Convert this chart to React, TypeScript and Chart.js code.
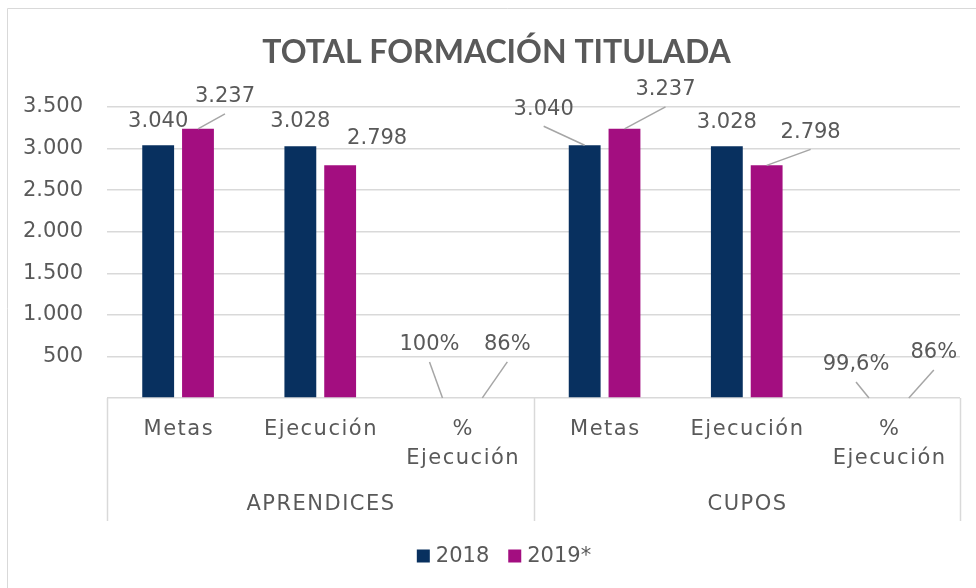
import React, { useEffect, useRef } from 'react';
import { Chart, registerables } from 'chart.js';

Chart.register(...registerables);

// ---- data ----
const chartTitle = 'TOTAL FORMACIÓN TITULADA';
const groupLabels = ['APRENDICES', 'CUPOS'];
const categoryLabels = [['Metas'], ['Ejecución'], ['%', 'Ejecución']];
const seriesNames = ['2018', '2019*'];
const values2018 = [3040, 3028, 1.0, 3040, 3028, 0.996];
const values2019 = [3237, 2798, 0.86, 3237, 2798, 0.86];
const Y_MIN = 0;
const Y_MAX = 3500;
const Y_STEP = 500;

// ---- styles / label placement (not data) ----
const COLORS = ['#08305F', '#A30E80'];
const TEXT = '#595959';
const LINE = '#D9D9D9';
const LEADER = '#A6A6A6';
const FONT = "'DejaVu Sans', sans-serif";
const FS = 21;
// [dx, dy, leader] relative to bar top centre
const labelPlacement2018: [number, number, boolean][] = [
  [0, -24, false], [0, -25, false], [-13, -53, true],
  [-41, -36, true], [0, -24, false], [-13, -33, true],
];
const labelPlacement2019: [number, number, boolean][] = [
  [27, -32, true], [37, -27, false], [25, -53, true],
  [41, -39, true], [44, -33, true], [25, -45, true],
];

const W = 1000;
const H = 600;

function thousands(v: number): string {
  return String(Math.round(v)).replace(/\B(?=(\d{3})+(?!\d))/g, '.');
}
function fmt(v: number): string {
  if (v >= 10) return thousands(v);
  const p = Math.round(v * 1000) / 10;
  return (Number.isInteger(p) ? String(p) : p.toFixed(1).replace('.', ',')) + '%';
}

const xLabels: string[] = [];
groupLabels.forEach((g) => categoryLabels.forEach((c) => xLabels.push(g + ' ' + c.join(' '))));

function barColor(di: number) {
  // sub-pixel bars (percentages on the count axis) stay invisible, as in the source
  return (c: any) => (Math.abs(Number(c.raw)) < 10 ? 'rgba(0,0,0,0)' : COLORS[di]);
}

const decorPlugin = {
  id: 'decor',
  beforeDraw(chart: any) {
    const ctx = chart.ctx;
    ctx.save();
    ctx.strokeStyle = LINE;
    ctx.lineWidth = 1;
    ctx.beginPath();
    ctx.moveTo(0.5, H);
    ctx.lineTo(0.5, 0.5);
    ctx.lineTo(W, 0.5);
    ctx.stroke();
    ctx.restore();
  },
  afterDatasetsDraw(chart: any) {
    const ctx = chart.ctx;
    const placements = [labelPlacement2018, labelPlacement2019];
    ctx.save();
    ctx.font = `${FS}px ${FONT}`;
    ctx.fillStyle = TEXT;
    ctx.textAlign = 'center';
    ctx.textBaseline = 'middle';
    chart.data.datasets.forEach((ds: any, di: number) => {
      const meta = chart.getDatasetMeta(di);
      meta.data.forEach((bar: any, i: number) => {
        const [dx, dy, leader] = placements[di][i];
        const lx = bar.x + dx;
        const ly = bar.y + dy;
        if (leader) {
          ctx.strokeStyle = LEADER;
          ctx.lineWidth = 1.5;
          ctx.beginPath();
          ctx.moveTo(bar.x, bar.y);
          ctx.lineTo(lx, ly + 17);
          ctx.stroke();
        }
        ctx.fillText(fmt(ds.data[i]), lx, ly);
      });
    });
    ctx.restore();
  },
  afterDraw(chart: any) {
    const ctx = chart.ctx;
    const xs = chart.scales.x;
    const area = chart.chartArea;
    const step = xs.getPixelForValue(1) - xs.getPixelForValue(0);
    const nCat = categoryLabels.length;
    ctx.save();
    // title
    ctx.font = `bold 32px Lato, sans-serif`;
    ctx.fillStyle = TEXT;
    ctx.textAlign = 'center';
    ctx.textBaseline = 'middle';
    ctx.fillText(chartTitle, 489.5, 45);
    // separators
    ctx.strokeStyle = LINE;
    ctx.lineWidth = 1.5;
    for (let g = 0; g <= groupLabels.length; g++) {
      const px = Math.round(xs.getPixelForValue(g * nCat) - step / 2) + 0.5;
      ctx.beginPath();
      ctx.moveTo(px, area.bottom);
      ctx.lineTo(px, area.bottom + 123);
      ctx.stroke();
    }
    // category labels
    ctx.font = `${FS}px ${FONT}`;
    ctx.fillStyle = TEXT;
    (ctx as any).letterSpacing = '1.5px';
    for (let i = 0; i < xLabels.length; i++) {
      const lines = categoryLabels[i % nCat];
      const cx = xs.getPixelForValue(i);
      lines.forEach((t, li) => ctx.fillText(t, cx + 0.75, area.bottom + 32 + li * 29));
    }
    // group labels
    groupLabels.forEach((g, gi) => {
      const cx = (xs.getPixelForValue(gi * nCat) + xs.getPixelForValue(gi * nCat + nCat - 1)) / 2;
      ctx.fillText(g, cx + 0.75, area.bottom + 107);
    });
    (ctx as any).letterSpacing = '0px';
    // legend
    const box = 13;
    const gapText = 6;
    const gapItem = 19;
    const items = chart.data.datasets.map((d: any, di: number) => ({
      label: d.label,
      color: COLORS[di],
      w: ctx.measureText(d.label).width,
    }));
    const total = items.reduce((s: number, it: any) => s + box + gapText + it.w, 0) + gapItem * (items.length - 1);
    let x = 497 - total / 2;
    const ly = 548;
    ctx.textAlign = 'left';
    items.forEach((it: any) => {
      ctx.fillStyle = it.color;
      ctx.fillRect(x, ly - box / 2, box, box);
      x += box + gapText;
      ctx.fillStyle = TEXT;
      ctx.fillText(it.label, x, ly + 1);
      x += it.w + gapItem;
    });
    ctx.restore();
  },
};

export default function App() {
  const ref = useRef<HTMLCanvasElement | null>(null);
  useEffect(() => {
    if (!ref.current) return;
    const chart = new Chart(ref.current, {
      type: 'bar',
      data: {
        labels: xLabels,
        datasets: [
          { label: seriesNames[0], data: values2018, backgroundColor: barColor(0) },
          { label: seriesNames[1], data: values2019, backgroundColor: barColor(1) },
        ],
      },
      options: {
        responsive: false,
        animation: false,
        devicePixelRatio: 1,
        layout: { padding: { left: 0, right: 47, top: 99, bottom: 0 } },
        datasets: { bar: { categoryPercentage: 0.56, barPercentage: 0.8, inflateAmount: 0 } },
        plugins: {
          legend: { display: false },
          tooltip: { enabled: false },
          title: { display: false },
        },
        scales: {
          x: {
            grid: { display: false },
            border: { display: false },
            ticks: { display: false },
            afterFit: (s: any) => { s.height = 210; },
          },
          y: {
            min: Y_MIN,
            max: Y_MAX,
            border: { display: false },
            grid: { color: LINE, lineWidth: 1.5, drawTicks: false },
            ticks: {
              stepSize: Y_STEP,
              padding: 24,
              color: TEXT,
              font: { family: FONT, size: FS },
              callback: (v: any) => (Number(v) === 0 ? '' : thousands(Number(v))),
            },
            afterFit: (s: any) => { s.width = 100; },
          },
        },
      },
      plugins: [decorPlugin],
    } as any);
    return () => chart.destroy();
  }, []);
  return (
    <div style={{ position: 'fixed', left: 7, top: 8, width: W, height: H }}>
      <canvas ref={ref} width={W} height={H} style={{ width: W, height: H, display: 'block' }} />
    </div>
  );
}
